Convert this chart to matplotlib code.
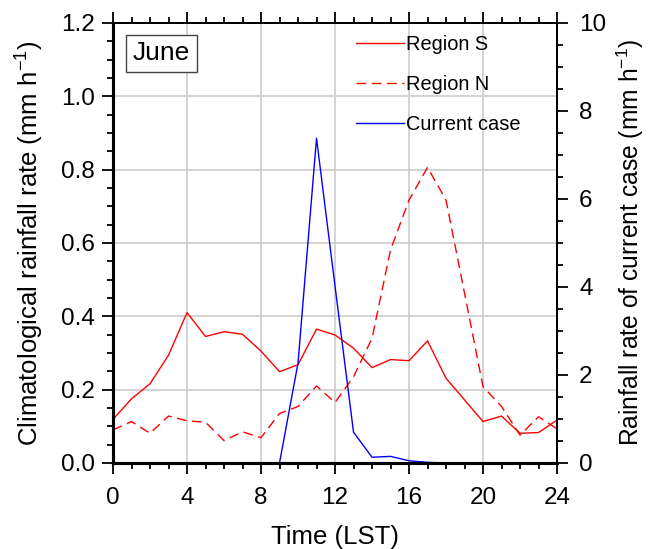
"""Diurnal rainfall: climatology of two regions vs the current case (June)."""
import matplotlib
matplotlib.use("Agg")
import matplotlib.pyplot as plt
import numpy as np
from matplotlib.ticker import MultipleLocator, FormatStrFormatter

plt.rcParams["font.family"] = ["Liberation Sans", "DejaVu Sans"]
plt.rcParams["mathtext.fontset"] = "custom"
plt.rcParams["mathtext.rm"] = "Liberation Sans"
plt.rcParams["mathtext.it"] = "Liberation Sans"

hours = np.arange(0, 25)

# climatological rate (mm/h), left axis
region_s = [0.119, 0.175, 0.216, 0.294, 0.410, 0.345, 0.358, 0.351, 0.305,
            0.249, 0.268, 0.365, 0.349, 0.313, 0.260, 0.282, 0.279, 0.333,
            0.231, 0.172, 0.113, 0.128, 0.081, 0.083, 0.117]
region_n = [0.090, 0.113, 0.081, 0.128, 0.115, 0.111, 0.061, 0.085, 0.069,
            0.135, 0.154, 0.210, 0.165, 0.235, 0.340, 0.581, 0.717, 0.806,
            0.717, 0.463, 0.208, 0.154, 0.076, 0.126, 0.093]
# current case (mm/h), right axis
current = [0.0, 0.0, 0.0, 0.0, 0.0, 0.0, 0.0, 0.0, 0.0,
           0.0, 2.27, 7.38, 4.02, 0.70, 0.13, 0.15, 0.05, 0.015,
           0.0, 0.0, 0.0, 0.0, 0.0, 0.0, 0.0]

fig = plt.figure(figsize=(6.48, 5.49), dpi=100)
ax = fig.add_axes([0.1744, 0.1567, 0.6852, 0.8015])
ax2 = ax.twinx()

grid_c = "#cccccc"
for x in range(4, 24, 4):
    ax.axvline(x, color=grid_c, lw=1.2, zorder=0)
for y in np.arange(0.2, 1.2, 0.2):
    ax.axhline(y, color=grid_c, lw=1.2, zorder=0)

l1, = ax.plot(hours, region_s, color="red", lw=1.0, label="Region S")
l2, = ax.plot(hours, region_n, color="red", lw=1.0, ls=(0, (7, 4)),
              label="Region N")
l3, = ax2.plot(hours, current, color="blue", lw=1.0, label="Current case")

ax.set_xlim(0, 24)
ax.set_ylim(0, 1.2)
ax2.set_ylim(0, 10)

ax.xaxis.set_major_locator(MultipleLocator(4))
ax.xaxis.set_minor_locator(MultipleLocator(1))
ax.yaxis.set_major_locator(MultipleLocator(0.2))
ax.yaxis.set_minor_locator(MultipleLocator(0.05))
ax.yaxis.set_major_formatter(FormatStrFormatter("%.1f"))
ax2.yaxis.set_major_locator(MultipleLocator(2))
ax2.yaxis.set_minor_locator(MultipleLocator(0.5))

ax.tick_params(axis="x", which="both", direction="out", top=True,
               labelsize=17.5, width=1.3, pad=9)
ax.tick_params(axis="y", which="both", direction="out", right=False,
               labelsize=17.5, width=1.3, pad=5)
ax2.tick_params(axis="y", which="both", direction="out", labelsize=17.5,
                width=1.3, pad=8)
for a in (ax, ax2):
    a.tick_params(which="major", length=8)
    a.tick_params(which="minor", length=4.5)

for side in ("left", "bottom"):
    ax.spines[side].set_linewidth(2.2)
    ax2.spines[side].set_linewidth(2.2)
for side in ("top", "right"):
    ax.spines[side].set_linewidth(1.4)
    ax2.spines[side].set_linewidth(1.4)

ax.set_xlabel("Time (LST)", fontsize=18.5, labelpad=12)
ax.set_ylabel(r"Climatological rainfall rate (mm h$^{-1}$)", fontsize=18.5,
              labelpad=11)
ax2.set_ylabel(r"Rainfall rate of current case (mm h$^{-1}$)", fontsize=17.7,
               labelpad=6)

ax.text(0.109, 0.931, "June", transform=ax.transAxes, fontsize=19,
        ha="center", va="center",
        bbox=dict(boxstyle="square,pad=0.25", fc="white", ec="#444444", lw=1.0))

ax.legend(handles=[l1, l2, l3], loc="upper left",
          bbox_to_anchor=(0.547, 0.972), frameon=False, fontsize=14.4,
          handlelength=2.4, handletextpad=0.1, labelspacing=1.05,
          borderpad=0, borderaxespad=0)

plt.savefig("out.png", dpi=100)
